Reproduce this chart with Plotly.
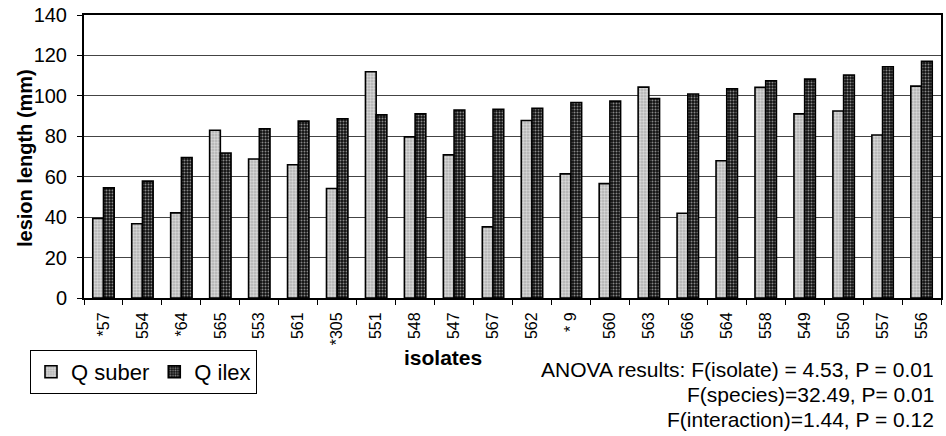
import plotly.graph_objects as go

isolates = ["*57", "554", "*64", "565", "553", "561", "*305", "551", "548", "547", "567",
            "562", "* 9", "560", "563", "566", "564", "558", "549", "550", "557", "556"]
q_suber = [39.3, 36.7, 42.1, 83.0, 68.8, 65.9, 54.2, 111.9, 79.7, 70.8, 35.2,
           87.8, 61.4, 56.6, 104.3, 41.9, 67.9, 104.2, 91.1, 92.5, 80.6, 104.8]
q_ilex = [54.5, 57.8, 69.5, 71.7, 83.7, 87.5, 88.7, 90.6, 91.1, 93.0, 93.4,
          93.8, 96.7, 97.4, 98.7, 100.9, 103.5, 107.5, 108.3, 110.3, 114.4, 117.1]
y_ticks = [0, 20, 40, 60, 80, 100, 120, 140]
anova_lines = ["ANOVA results: F(isolate) = 4.53, P = 0.01",
               "F(species)=32.49, P= 0.01",
               "F(interaction)=1.44, P = 0.12"]

FONT = "Liberation Sans, Arial, sans-serif"

fig = go.Figure()
fig.add_trace(go.Bar(
    x=isolates, y=q_suber, name="Q suber",
    marker=dict(color="#b0b0b0", line=dict(color="black", width=1.6),
                pattern=dict(shape=".", fgcolor="#ffffff", size=3, solidity=0.5)),
))
fig.add_trace(go.Bar(
    x=isolates, y=q_ilex, name="Q ilex",
    marker=dict(color="#111111", line=dict(color="black", width=1.6),
                pattern=dict(shape=".", fgcolor="#ffffff", size=3, solidity=0.35)),
))

fig.update_layout(
    width=946, height=436,
    margin=dict(l=84, r=5, t=15, b=138),
    paper_bgcolor="white", plot_bgcolor="white",
    barmode="group", bargap=0.45, bargroupgap=0,
    font=dict(family=FONT, color="black"),
    showlegend=True,
    legend=dict(
        orientation="h", x=(30 - 84) / 857, y=(298 - 350) / 283,
        xanchor="left", yanchor="top",
        bordercolor="black", borderwidth=1, bgcolor="white",
        font=dict(size=22, family=FONT), itemwidth=30,
        tracegroupgap=0,
    ),
    xaxis=dict(
        type="category", tickangle=-90, tickfont=dict(size=16, family=FONT),
        ticks="outside", tickson="boundaries", ticklen=5, tickcolor="black",
        ticklabelstandoff=6,
        showline=True, linecolor="black", linewidth=2, mirror=True,
        showgrid=False, automargin=False,
    ),
    yaxis=dict(
        range=[0, 140], tickvals=y_ticks, tickfont=dict(size=20, family=FONT),
        ticks="outside", ticklen=5, tickcolor="black",
        ticklabelstandoff=6,
        showline=True, linecolor="black", linewidth=2, mirror=True,
        showgrid=True, gridcolor="#444444", gridwidth=1,
        zeroline=False, automargin=False,
    ),
)

fig.add_annotation(
    text="<b>lesion length (mm)</b>", xref="paper", yref="paper",
    x=(25 - 84) / 857, y=(298 - 158) / 283, xanchor="center", yanchor="middle",
    textangle=-90, showarrow=False, font=dict(size=20, family=FONT),
)
fig.add_annotation(
    text="<b>isolates</b>", xref="paper", yref="paper",
    x=(443 - 84) / 857, y=(298 - 357) / 283, xanchor="center", yanchor="middle",
    showarrow=False, font=dict(size=21, family=FONT),
)
for i, line in enumerate(anova_lines):
    fig.add_annotation(
        text=line, xref="paper", yref="paper",
        x=(935 - 84) / 857, y=(298 - (369 + i * 25)) / 283,
        xanchor="right", yanchor="middle", height=24, borderpad=0,
        showarrow=False, font=dict(size=21, family=FONT),
    )

fig.write_html("out.html", config={"displayModeBar": False},
               post_script="document.body.style.margin='0';")
